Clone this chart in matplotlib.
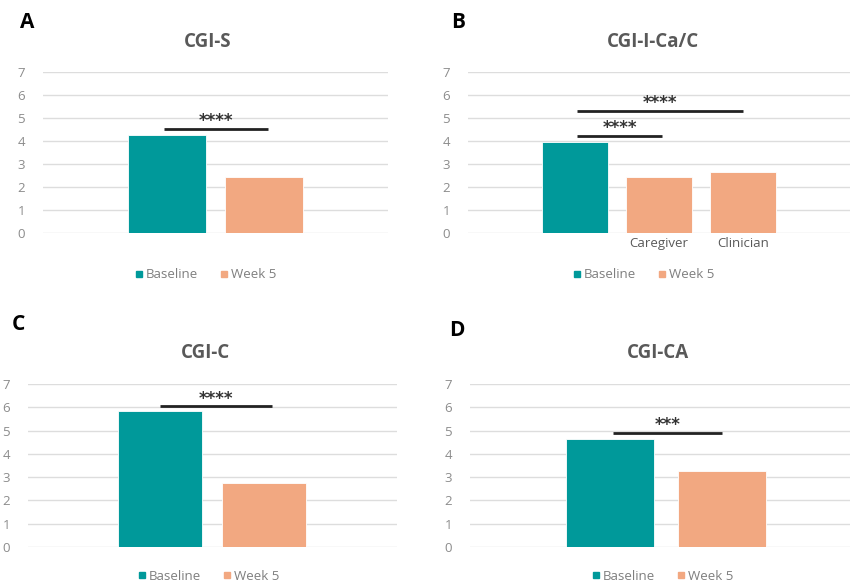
import matplotlib.pyplot as plt
from matplotlib.lines import Line2D

plt.rcParams['font.family'] = ['Open Sans', 'DejaVu Sans']

TEAL = '#00999A'
SALMON = '#F2A881'
GREY = '#595959'

# panel data
cgi_s = [4.27, 2.42]
cgi_ica = [3.97, 2.45, 2.67]
cgi_ica_labels = ['', 'Caregiver', 'Clinician']
cgi_c = [5.85, 2.75]
cgi_ca = [4.62, 3.27]

# significance brackets: (x0, x1, y, stars)
sig_s = [(-0.03, 1.04, 4.52, '****')]
sig_ica = [(0.02, 1.04, 4.22, '****'), (0.02, 2.0, 5.3, '****')]
sig_c = [(0.0, 1.08, 6.05, '****')]
sig_ca = [(0.03, 1.0, 4.9, '***')]

W, H = 850, 585
fig = plt.figure(figsize=(8.5, 5.85), dpi=100)


def make_axes(left, top, right, bottom):
    return fig.add_axes([left / W, (H - bottom) / H, (right - left) / W, (bottom - top) / H])


def draw_panel(ax, values, colors, xlim, width, title, letter, letter_xy, title_xy, sigs,
               legend_xy, cat_labels=None):
    xs = list(range(len(values)))
    ax.bar(xs, values, width=width, color=colors, edgecolor='white', linewidth=0.6, zorder=3)
    ax.set_ylim(0, 7)
    ax.set_xlim(*xlim)
    ax.set_yticks(range(8))
    ax.yaxis.grid(True, color='#DDDDDD', linewidth=1.0, zorder=0)
    for s in ax.spines.values():
        s.set_visible(False)
    ax.tick_params(axis='y', length=0, pad=13, labelsize=9.5, labelcolor='#8C8C8C')
    if cat_labels:
        ax.set_xticks(xs)
        ax.set_xticklabels(cat_labels, fontsize=9.5, color=GREY)
        ax.tick_params(axis='x', length=0, pad=3)
    else:
        ax.set_xticks([])
    for x0, x1, y, stars in sigs:
        ax.plot([x0, x1], [y, y], color='#222222', linewidth=2.0, zorder=4, solid_capstyle='butt')
        ax.annotate(stars, xy=((x0 + x1) / 2, y), xytext=(0, -1), textcoords='offset points',
                    ha='center', va='bottom', fontsize=12, fontweight='bold', color='#333333',
                    family='DejaVu Sans')
    fig.text(title_xy[0] / W, 1 - title_xy[1] / H, title, ha='center', va='center',
             fontsize=13.5, fontweight='bold', color=GREY)
    fig.text(letter_xy[0] / W, 1 - letter_xy[1] / H, letter, ha='center', va='center',
             fontsize=15, fontweight='bold', color='black')
    handles = [Line2D([], [], marker='s', linestyle='none', color=TEAL, markersize=5),
               Line2D([], [], marker='s', linestyle='none', color=SALMON, markersize=5)]
    fig.legend(handles, ['Baseline', 'Week 5'], loc='center',
               bbox_to_anchor=(legend_xy[0] / W, 1 - legend_xy[1] / H),
               ncol=2, frameon=False, fontsize=9.5, labelcolor='#7F7F7F',
               handletextpad=0.1, columnspacing=1.6, handlelength=0.8)


axA = make_axes(43, 72, 388, 233)
draw_panel(axA, cgi_s, [TEAL, SALMON], (-1.28, 2.28), 0.8, 'CGI-S', 'A', (27, 22), (208, 42),
           sig_s, (205, 275))

axB = make_axes(468, 72, 850, 233)
draw_panel(axB, cgi_ica, [TEAL, SALMON, SALMON], (-1.27, 3.27), 0.79, 'CGI-I-Ca/C', 'B', (458, 22),
           (653, 42), sig_ica, (643, 275), cat_labels=cgi_ica_labels)

axC = make_axes(28, 384, 397, 547)
draw_panel(axC, cgi_c, [TEAL, SALMON], (-1.27, 2.28), 0.8, 'CGI-C', 'C', (18, 325), (205, 353),
           sig_c, (208, 576))

axD = make_axes(470, 384, 850, 547)
draw_panel(axD, cgi_ca, [TEAL, SALMON], (-1.25, 2.14), 0.79, 'CGI-CA', 'D', (457, 330), (658, 353),
           sig_ca, (662, 576))

fig.savefig('out.png', dpi=100)
